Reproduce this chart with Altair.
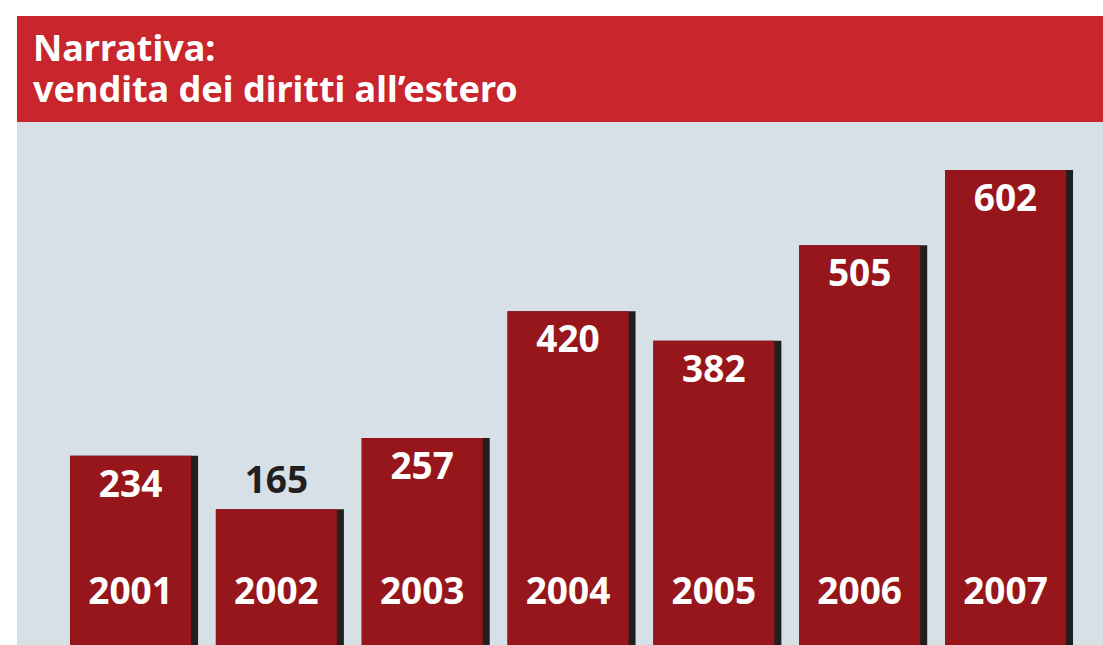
import altair as alt
import pandas as pd

years = ["2001", "2002", "2003", "2004", "2005", "2006", "2007"]
values = [234, 165, 257, 420, 382, 505, 602]
label_inside = [True, False, True, True, True, True, True]
title_text = "Narrativa:\nvendita dei diritti all’estero"

HEADER_RED = "#C9252C"
BG_GRAY = "#D8E0E7"
BAR_RED = "#97161B"
SHADOW = "#231F20"
FONT = "Noto Sans"

W, H = 1086, 629
Y_MIN, Y_MAX = -9.66, 800.3
df = pd.DataFrame({"year": years, "value": values, "inside": label_inside})

x = alt.X("year:N", axis=None,
          scale=alt.Scale(paddingInner=0.122, paddingOuter=0.2846, align=0.639))
yscale = alt.Scale(domain=[Y_MIN, Y_MAX], nice=False, zero=False)
y = alt.Y("value:Q", axis=None, scale=yscale)
y2 = alt.Y2(datum=Y_MIN)

base = alt.Chart(df)

shadow = base.mark_bar(color=SHADOW).encode(x=x, y=y, y2=y2)
bars = base.mark_bar(color=BAR_RED, width=121, xOffset=-3.5).encode(
    x=x, y=y, y2=y2)

inside_lbl = base.transform_filter("datum.inside").mark_text(
    font=FONT, fontWeight="bold", fontSize=37, color="white",
    baseline="alphabetic", dy=41, xOffset=-3.5
).encode(x=x, y=y, text="value:Q")

outside_lbl = base.transform_filter("!datum.inside").mark_text(
    font=FONT, fontWeight="bold", fontSize=37, color=SHADOW,
    baseline="alphabetic", dy=-16, xOffset=-3.5
).encode(x=x, y=y, text="value:Q")

year_lbl = base.mark_text(
    font=FONT, fontWeight="bold", fontSize=37, color="white",
    baseline="alphabetic", xOffset=-3.5
).encode(x=x, y=alt.value(588), text="year:N")

header = alt.Chart(pd.DataFrame({"a": [0]})).mark_rect(color=HEADER_RED).encode(
    x=alt.value(0), x2=alt.value(W), y=alt.value(0), y2=alt.value(106))

title = alt.Chart(pd.DataFrame({"t": [title_text]})).mark_text(
    font=FONT, fontWeight="bold", fontSize=36, color="white",
    align="left", baseline="alphabetic", lineBreak="\n", lineHeight=41
).encode(x=alt.value(16), y=alt.value(45), text="t:N")

chart = alt.layer(
    shadow, bars, inside_lbl, outside_lbl, year_lbl, header, title
).resolve_scale(y="independent").properties(
    width=W, height=H,
    padding={"left": 17, "top": 16, "right": 0, "bottom": 0},
    autosize=alt.AutoSizeParams(type="none"),
    background="white",
).configure_view(stroke=None, fill=BG_GRAY)

chart.save("out.html", embed_options={"renderer": "svg", "actions": False})
